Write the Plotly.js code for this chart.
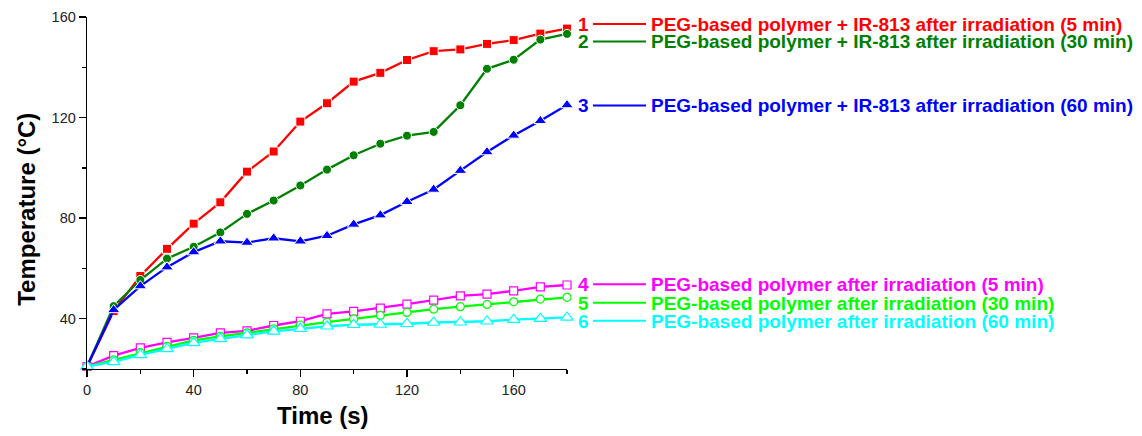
<!DOCTYPE html>
<html>
<head>
<meta charset="utf-8">
<script src="https://cdn.plot.ly/plotly-3.0.1.min.js"></script>
<style>html,body{margin:0;padding:0;background:#fff;}#chart{width:1142px;height:436px;}</style>
</head>
<body>
<div id="chart"></div>
<script>
const timeS = [0,10,20,30,40,50,60,70,80,90,100,110,120,130,140,150,160,170,180];
const s1 = [21,43,57,67.8,77.8,86.3,98.5,106.5,118.4,125.7,134.3,137.8,142.9,146.4,147.1,149.3,150.8,153.4,155.4];
const s2 = [21,45,55.4,63.9,68.6,74.3,81.7,87,93,99.3,105,109.6,112.8,114.3,124.9,139.4,143,151,153.3];
const s3 = [21,43.5,53,60.5,66.5,70.8,70.3,72,70.8,73,77.5,81.2,86.5,91.4,98.9,106.3,112.9,118.7,125];
const s4 = [21,25.3,28.4,30.6,32.4,34.4,35.2,37.3,39,41.9,42.9,44.2,45.8,47.4,49.1,49.8,51.1,52.7,53.4];
const s5 = [21,23.6,26.5,29,31.4,33,34.4,36,37.5,38.6,39.9,41.3,42.5,43.8,44.8,45.7,46.7,47.8,48.5];
const s6 = [21,22.8,25.6,28,30.4,32,33.5,35,36,37,37.6,37.7,38,38.5,38.6,39,39.6,40,40.5];
const legendNums = ['1','2','3','4','5','6'];
const legendTexts = [
  'PEG-based polymer + IR-813 after irradiation (5 min)',
  'PEG-based polymer + IR-813 after irradiation (30 min)',
  'PEG-based polymer + IR-813 after irradiation (60 min)',
  'PEG-based polymer after irradiation (5 min)',
  'PEG-based polymer after irradiation (30 min)',
  'PEG-based polymer after irradiation (60 min)'
];
const xTitle = 'Time (s)';
const yTitle = 'Temperature (°C)';
const colors = ['#FF0000','#008000','#0000FF','#FF00FF','#00FF00','#00FFFF'];
const seriesY = [s1,s2,s3,s4,s5,s6];
const symbols = ['square','circle','triangle-up','square','circle','triangle-up'];
const openMarker = [false,false,false,true,true,true];
const sizes = [9,9,11,8,8,11];
const legendRowPx = [24.5,42,106,285,303.5,321.5];

const traces = seriesY.map((y,i)=>({
  x: timeS, y: y, type:'scatter', mode:'lines+markers', cliponaxis:false,
  line:{color:colors[i], width:2.3},
  marker: openMarker[i]
    ? {symbol:symbols[i], size:sizes[i], color:'#FFFFFF', line:{color:colors[i], width:1.2}}
    : {symbol:symbols[i], size:sizes[i], color:colors[i], line:{color:'#FFFFFF', width:1}},
  showlegend:false, hoverinfo:'x+y'
}));

const W=1142, H=436;
const L=87, R=567, T=17, B=369.3;
const px2x = p => (p-L)/(R-L);
const py2y = p => (B-p)/(B-T);
const fontFam = 'Arial, "Liberation Sans", sans-serif';

const annotations = [];
const shapes = [];
legendNums.forEach((n,i)=>{
  const yy = py2y(legendRowPx[i]);
  annotations.push({xref:'paper', yref:'paper', x:px2x(577), y:yy, xanchor:'left', yanchor:'middle',
    text:'<b>'+n+'</b>', showarrow:false, font:{family:fontFam, size:19, color:colors[i]}, borderpad:0});
  annotations.push({xref:'paper', yref:'paper', x:px2x(650), y:yy, xanchor:'left', yanchor:'middle',
    text:'<b>'+legendTexts[i]+'</b>', showarrow:false, font:{family:fontFam, size:19, color:colors[i]}, borderpad:0});
  shapes.push({type:'line', xref:'paper', yref:'paper', x0:px2x(593), x1:px2x(646), y0:py2y(legendRowPx[i]-0.5), y1:py2y(legendRowPx[i]-0.5),
    line:{color:colors[i], width:2}});
});
annotations.push({xref:'paper', yref:'paper', x:px2x(323), y:py2y(416), xanchor:'center', yanchor:'middle',
  text:'<b>'+xTitle+'</b>', showarrow:false, font:{family:fontFam, size:24, color:'#000'}});
annotations.push({xref:'paper', yref:'paper', x:px2x(27), y:py2y(210), xanchor:'center', yanchor:'middle', textangle:-90,
  text:'<b>'+yTitle+'</b>', showarrow:false, font:{family:fontFam, size:24, color:'#000'}});

const layout = {
  width:W, height:H,
  margin:{l:L, r:W-R, t:T, b:H-B, pad:0},
  paper_bgcolor:'#fff', plot_bgcolor:'#fff',
  font:{family:fontFam, color:'#000'},
  showlegend:false,
  xaxis:{
    range:[0,180], tick0:0, dtick:40, showgrid:false, zeroline:false,
    showline:true, linecolor:'#000', linewidth:1.3, mirror:false,
    ticks:'outside', ticklen:7, tickwidth:1.3, tickcolor:'#000',
    tickfont:{family:fontFam, size:14.5, color:'#222'},
    minor:{dtick:20, ticks:'outside', ticklen:4, tickwidth:1.3, tickcolor:'#000', showgrid:false}
  },
  yaxis:{
    range:[20,160], tick0:40, dtick:40, showgrid:false, zeroline:false,
    showline:true, linecolor:'#000', linewidth:1.3, mirror:false,
    ticks:'outside', ticklen:7, tickwidth:1.3, tickcolor:'#000',
    tickfont:{family:fontFam, size:14.5, color:'#222'},
    minor:{dtick:20, ticks:'outside', ticklen:4, tickwidth:1.3, tickcolor:'#000', showgrid:false}
  },
  annotations: annotations,
  shapes: shapes
};
Plotly.newPlot('chart', traces, layout, {displayModeBar:false, staticPlot:true});
</script>
</body>
</html>
